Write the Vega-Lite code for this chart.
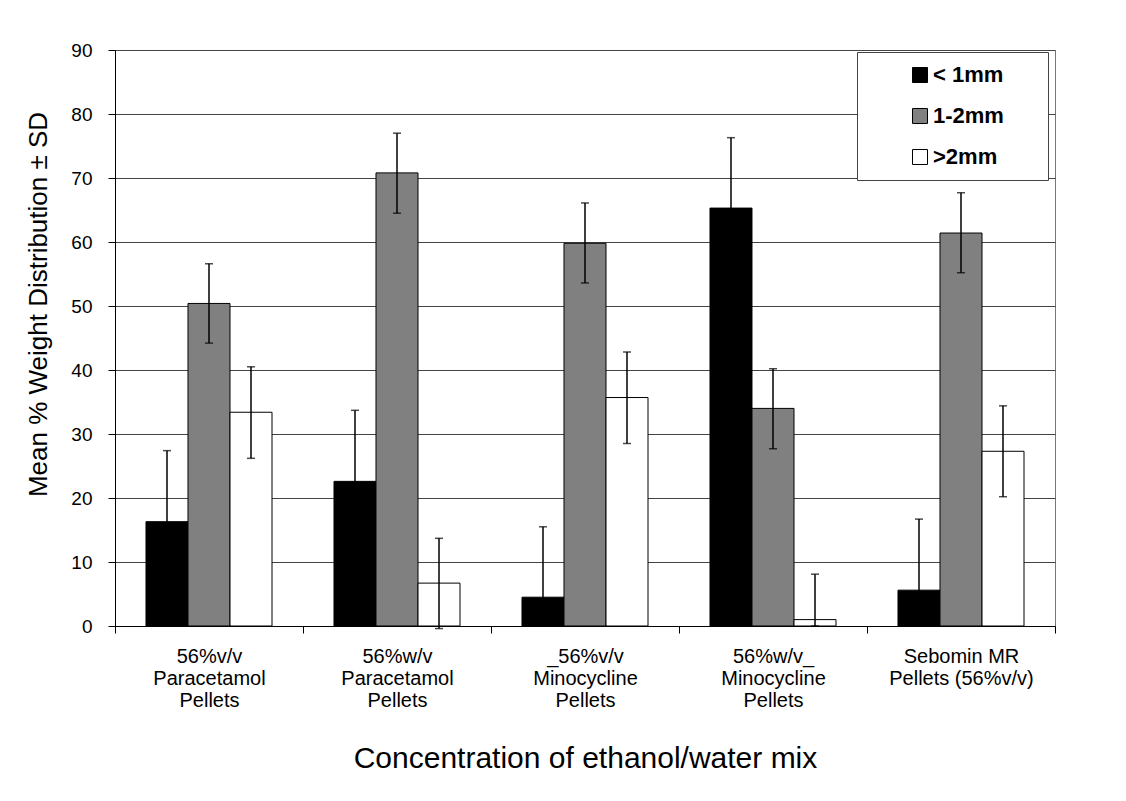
{
  "$schema": "https://vega.github.io/schema/vega-lite/v6.json",
  "width": 940,
  "height": 576,
  "autosize": {"type": "none"},
  "padding": {"left": 115, "top": 50, "right": 71, "bottom": 175},
  "background": "white",
  "config": {
    "font": "Liberation Sans",
    "view": {"stroke": "#777", "strokeWidth": 1},
    "axis": {"labelColor": "black", "titleColor": "black", "titleFontWeight": "normal", "domainColor": "black", "tickColor": "black"}
  },
  "data": {
    "values": [
      {"group": "56%v/v\nParacetamol\nPellets", "size": "< 1mm", "mean": 16.3, "lo": 5.3, "hi": 27.4},
      {"group": "56%v/v\nParacetamol\nPellets", "size": "1-2mm", "mean": 50.4, "lo": 44.2, "hi": 56.6},
      {"group": "56%v/v\nParacetamol\nPellets", "size": ">2mm", "mean": 33.4, "lo": 26.2, "hi": 40.5},
      {"group": "56%w/v\nParacetamol\nPellets", "size": "< 1mm", "mean": 22.6, "lo": 11.6, "hi": 33.7},
      {"group": "56%w/v\nParacetamol\nPellets", "size": "1-2mm", "mean": 70.8, "lo": 64.5, "hi": 77.0},
      {"group": "56%w/v\nParacetamol\nPellets", "size": ">2mm", "mean": 6.7, "lo": -0.4, "hi": 13.7},
      {"group": "_56%v/v\nMinocycline\nPellets", "size": "< 1mm", "mean": 4.5, "lo": 0, "hi": 15.5},
      {"group": "_56%v/v\nMinocycline\nPellets", "size": "1-2mm", "mean": 59.8, "lo": 53.6, "hi": 66.1},
      {"group": "_56%v/v\nMinocycline\nPellets", "size": ">2mm", "mean": 35.7, "lo": 28.5, "hi": 42.8},
      {"group": "56%w/v_\nMinocycline\nPellets", "size": "< 1mm", "mean": 65.3, "lo": 54.2, "hi": 76.3},
      {"group": "56%w/v_\nMinocycline\nPellets", "size": "1-2mm", "mean": 34.0, "lo": 27.7, "hi": 40.2},
      {"group": "56%w/v_\nMinocycline\nPellets", "size": ">2mm", "mean": 1.0, "lo": 0, "hi": 8.1},
      {"group": "Sebomin MR\nPellets (56%v/v)", "size": "< 1mm", "mean": 5.6, "lo": 0, "hi": 16.7},
      {"group": "Sebomin MR\nPellets (56%v/v)", "size": "1-2mm", "mean": 61.4, "lo": 55.2, "hi": 67.7},
      {"group": "Sebomin MR\nPellets (56%v/v)", "size": ">2mm", "mean": 27.3, "lo": 20.2, "hi": 34.4}
    ]
  },
  "encoding": {
    "x": {
      "field": "group", "type": "nominal", "sort": null,
      "scale": {"paddingInner": 0, "paddingOuter": 0},
      "axis": {
        "title": "Concentration of ethanol/water mix",
        "titleFontSize": 30, "titlePadding": 33,
        "labelAngle": 0, "labelFontSize": 20, "labelLineHeight": 22, "labelPadding": 13,
        "labelExpr": "split(datum.label, '\\n')",
        "tickBand": "extent", "tickSize": 7, "labelLimit": 0, "grid": false
      }
    },
    "xOffset": {
      "field": "size", "type": "nominal",
      "sort": ["< 1mm", "1-2mm", ">2mm"],
      "scale": {"paddingInner": 0, "paddingOuter": 0.738}
    }
  },
  "layer": [
    {
      "mark": {"type": "bar", "stroke": "black", "strokeWidth": 1, "fillOpacity": 1},
      "encoding": {
        "y": {
          "field": "mean", "type": "quantitative",
          "scale": {"domain": [0, 90], "nice": false},
          "axis": {
            "title": "Mean % Weight Distribution ± SD",
            "titleFontSize": 26, "titlePadding": 19, "titleY": 254,
            "values": [0, 10, 20, 30, 40, 50, 60, 70, 80, 90],
            "labelFontSize": 19, "labelPadding": 16, "tickSize": 7,
            "grid": true, "gridColor": "#444", "gridWidth": 1
          }
        },
        "color": {
          "field": "size", "type": "nominal",
          "scale": {"domain": ["< 1mm", "1-2mm", ">2mm"], "range": ["#000000", "#808080", "#ffffff"]},
          "legend": {
            "orient": "none", "legendX": 742, "legendY": 2, "title": null,
            "symbolType": "square", "symbolSize": 225, "symbolStrokeColor": "black", "symbolStrokeWidth": 1,
            "symbolOpacity": 1,
            "labelFontSize": 22, "labelFontWeight": "bold", "labelColor": "black",
            "labelExpr": "datum.label + '\u2800\u2800'",
            "padding": 12, "rowPadding": 19, "labelOffset": 2, "symbolOffset": 40,
            "strokeColor": "#444", "fillColor": "white"
          }
        }
      }
    },
    {
      "mark": {"type": "rule", "color": "black", "strokeWidth": 1.5},
      "encoding": {
        "y": {"field": "lo", "type": "quantitative"},
        "y2": {"field": "hi"}
      }
    },
    {
      "mark": {"type": "tick", "color": "black", "size": 8, "thickness": 1.5},
      "encoding": {"y": {"field": "lo", "type": "quantitative"}}
    },
    {
      "mark": {"type": "tick", "color": "black", "size": 8, "thickness": 1.5},
      "encoding": {"y": {"field": "hi", "type": "quantitative"}}
    }
  ]
}
